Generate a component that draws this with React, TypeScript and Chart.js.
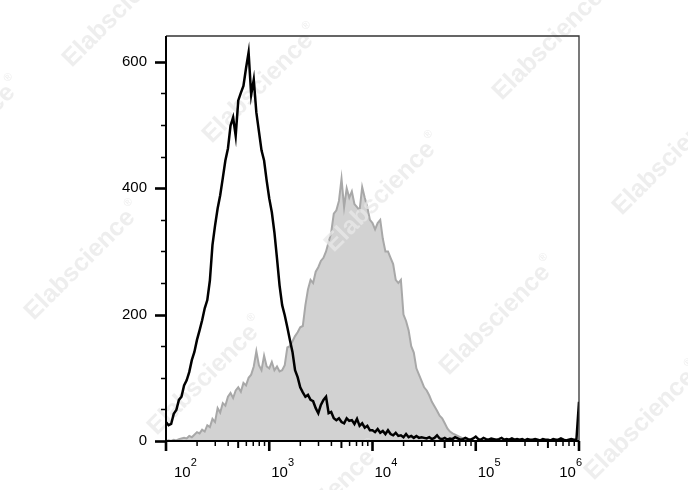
import { useEffect, useRef } from "react";
import { Chart, registerables } from "chart.js";

Chart.register(...registerables);

// Histogram channels: log10 position of channel i = binStartExp + i * binStepExp
const binStartExp = 2;
const binStepExp = 0.025;

// Unstained / isotype control (black line)
const controlCounts = [
  30, 25, 27, 43, 49, 65, 70, 88, 96, 109,
  128, 141, 160, 175, 191, 210, 223, 254, 310, 341,
  368, 389, 416, 444, 463, 499, 512, 483, 539, 551,
  562, 590, 615, 548, 572, 520, 490, 460, 444, 412,
  384, 362, 330, 289, 246, 215, 199, 180, 160, 141,
  112, 101, 85, 77, 70, 73, 65, 63, 52, 44,
  57, 65, 70, 44, 46, 36, 33, 36, 30, 28,
  36, 32, 33, 27, 35, 24, 28, 21, 24, 17,
  17, 14, 19, 13, 16, 11, 17, 11, 9, 13,
  8, 9, 6, 11, 6, 8, 5, 8, 5, 6,
  5, 4, 6, 3, 5, 9, 4, 3, 5, 2,
  4, 3, 6, 4, 2, 3, 5, 3, 2, 4,
  7, 3, 2, 5, 3, 2, 4, 3, 2, 3,
  5, 2, 3, 2, 4, 2, 3, 2, 3, 1,
  3, 2, 2, 3, 2, 1, 3, 2, 2, 1,
  3, 2, 2, 4, 2, 1, 2, 3, 2, 2,
  62,
];

// Stained sample (grey filled)
const stainedCounts = [
  0, 1, 0, 2, 1, 3, 4, 5, 4, 8,
  6, 10, 14, 12, 18, 15, 25, 22, 35, 30,
  52, 45, 60, 56, 70, 76, 68, 80, 85, 78,
  92, 88, 100, 105, 118, 142, 120, 112, 135, 118,
  115, 125, 112, 118, 110, 112, 120, 148, 150, 158,
  166, 172, 180, 182, 215, 240, 255, 250, 268, 275,
  285, 290, 300, 315, 330, 360, 365, 380, 415, 370,
  400, 385, 395, 375, 370, 365, 402, 385, 370, 350,
  345, 335, 345, 350, 320, 300, 300, 290, 280, 255,
  250, 255, 200, 190, 175, 150, 140, 115, 105, 95,
  85, 80, 72, 62, 55, 48, 40, 36, 28, 20,
  15, 12, 10, 8, 6, 4, 3, 2, 1, 0,
  0,
];

const yTickValues = [0, 200, 400, 600];
const yMinorStep = 50;
const xDecadeExps = [2, 3, 4, 5, 6];
const xMin = 100;
const xMax = 1e6;
const yMax = 641;

const FONT = "'Liberation Sans', Arial, sans-serif";

const watermarkSpots = [
  [118, 12], [-40, 140], [258, 88], [548, 45], [380, 197], [668, 160],
  [80, 265], [203, 380], [495, 320], [640, 425], [320, 505],
];

const toPoints = (counts: number[]) =>
  counts.map((c, i) => ({ x: Math.pow(10, binStartExp + i * binStepExp), y: c }));

const watermarkPlugin = {
  id: "watermark",
  afterDatasetDraw(chart: any, args: any) {
    if (args.index !== 1) return;
    const ctx = chart.ctx;
    ctx.save();
    for (const [cx, cy] of watermarkSpots) {
      ctx.save();
      ctx.translate(cx, cy);
      ctx.rotate(-Math.PI / 4);
      ctx.font = `bold 25px ${FONT}`;
      ctx.fillStyle = "rgba(232,232,232,0.75)";
      ctx.textAlign = "center";
      ctx.textBaseline = "middle";
      ctx.fillText("Elabscience", 0, 0);
      const w = ctx.measureText("Elabscience").width;
      ctx.font = `11px ${FONT}`;
      ctx.textAlign = "left";
      ctx.fillText("®", w / 2 + 2, -10);
      ctx.restore();
    }
    ctx.restore();
  },
};

const axesPlugin = {
  id: "fcsAxes",
  afterDraw(chart: any) {
    const ctx = chart.ctx;
    const { left, right, top, bottom } = chart.chartArea;
    const xs = chart.scales.x;
    const ys = chart.scales.y;
    ctx.save();
    // frame top/right
    ctx.strokeStyle = "#333";
    ctx.lineWidth = 1.3;
    ctx.beginPath();
    ctx.moveTo(left, top);
    ctx.lineTo(right, top);
    ctx.lineTo(right, bottom);
    ctx.stroke();
    // axis lines
    ctx.strokeStyle = "#000";
    ctx.lineWidth = 2;
    ctx.beginPath();
    ctx.moveTo(left, top);
    ctx.lineTo(left, bottom);
    ctx.lineTo(right, bottom);
    ctx.stroke();

    // y ticks
    const yTop = yTickValues[yTickValues.length - 1];
    for (let v = 0; v <= yTop; v += yMinorStep) {
      const y = Math.round(ys.getPixelForValue(v)) + 0.5;
      const major = yTickValues.includes(v);
      ctx.lineWidth = major ? 2.6 : 1.5;
      ctx.beginPath();
      ctx.moveTo(left - (major ? 11 : 5), y);
      ctx.lineTo(left, y);
      ctx.stroke();
    }
    ctx.fillStyle = "#000";
    ctx.font = `15px ${FONT}`;
    ctx.textAlign = "right";
    ctx.textBaseline = "middle";
    for (const v of yTickValues) {
      ctx.fillText(String(v), left - 19, ys.getPixelForValue(v));
    }

    // x ticks
    for (const d of xDecadeExps) {
      const base = Math.pow(10, d);
      const x = xs.getPixelForValue(base);
      ctx.lineWidth = 2.6;
      ctx.beginPath();
      ctx.moveTo(x, bottom);
      ctx.lineTo(x, bottom + 10);
      ctx.stroke();
      if (d === xDecadeExps[xDecadeExps.length - 1]) continue;
      for (let m = 2; m <= 9; m++) {
        const xm = xs.getPixelForValue(m * base);
        ctx.lineWidth = m === 5 ? 2 : 1.5;
        ctx.beginPath();
        ctx.moveTo(xm, bottom);
        ctx.lineTo(xm, bottom + (m === 5 ? 7 : 5));
        ctx.stroke();
      }
    }
    // x labels 10^n
    ctx.textAlign = "left";
    ctx.textBaseline = "alphabetic";
    for (const d of xDecadeExps) {
      const x = xs.getPixelForValue(Math.pow(10, d));
      ctx.font = `15px ${FONT}`;
      const wBase = ctx.measureText("10").width;
      ctx.font = `11px ${FONT}`;
      const wExp = ctx.measureText(String(d)).width;
      let sx = x + 2;
      if (sx < left + 8) sx = left + 8;
      if (sx + wBase + wExp > right + 3) sx = right + 3 - wBase - wExp;
      ctx.font = `15px ${FONT}`;
      ctx.fillText("10", sx, bottom + 36);
      ctx.font = `11px ${FONT}`;
      ctx.fillText(String(d), sx + wBase, bottom + 25);
    }
    ctx.restore();
  },
};

export default function App() {
  const ref = useRef<HTMLCanvasElement | null>(null);
  useEffect(() => {
    if (!ref.current) return;
    const chart = new Chart(ref.current, {
      type: "line",
      data: {
        datasets: [
          {
            label: "Control",
            data: toPoints(controlCounts),
            borderColor: "#000",
            borderWidth: 2.5,
            pointRadius: 0,
            tension: 0,
            fill: false,
            order: 0,
          },
          {
            label: "Stained",
            data: toPoints(stainedCounts),
            borderColor: "#a8a8a8",
            backgroundColor: "#d2d2d2",
            borderWidth: 2,
            pointRadius: 0,
            tension: 0,
            fill: "origin",
            order: 1,
          },
        ],
      },
      options: {
        animation: false,
        responsive: false,
        devicePixelRatio: 1,
        layout: { padding: { left: 166, top: 36, right: 109, bottom: 49 } },
        plugins: { legend: { display: false }, tooltip: { enabled: false } },
        scales: {
          x: { type: "logarithmic", min: xMin, max: xMax, display: false },
          y: { type: "linear", min: 0, max: yMax, display: false },
        },
      },
      plugins: [watermarkPlugin, axesPlugin],
    });
    return () => chart.destroy();
  }, []);
  return (
    <div style={{ position: "fixed", left: 0, top: 0, width: 688, height: 490, background: "#fff" }}>
      <canvas ref={ref} width={688} height={490} style={{ width: 688, height: 490 }} />
    </div>
  );
}
